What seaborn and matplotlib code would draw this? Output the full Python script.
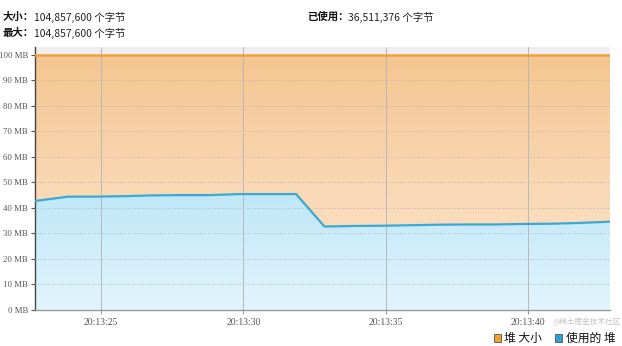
import numpy as np
import pandas as pd
import matplotlib
matplotlib.use("Agg")
import matplotlib.pyplot as plt
import seaborn as sns
from matplotlib.patches import Rectangle

# ---- data (seconds after 20:13:00, MB) ----
times = [22.68, 23.85, 24.85, 25.85, 26.85, 27.85, 28.85, 29.85, 30.85, 31.85,
         32.85, 33.85, 34.85, 35.85, 36.85, 37.85, 38.85, 39.85, 40.85, 41.85, 42.88]
used_mb = [42.7, 44.4, 44.4, 44.6, 44.9, 45.0, 45.0, 45.4, 45.4, 45.4,
           32.7, 32.9, 33.0, 33.2, 33.4, 33.5, 33.5, 33.7, 33.8, 34.1, 34.6]
heap_mb = [100.0] * len(times)
tick_secs = [25, 30, 35, 40]
tick_labels = ["20:13:25", "20:13:30", "20:13:35", "20:13:40"]
y_ticks = [0, 10, 20, 30, 40, 50, 60, 70, 80, 90, 100]
series_names = ["堆 大小", "使用的 堆"]

df = pd.DataFrame({"t": times, "heap": heap_mb, "used": used_mb})

sns.set_theme(style="white")
plt.rcParams['font.family'] = ['Noto Sans CJK SC', 'DejaVu Sans']

fig = plt.figure(figsize=(6.22, 3.46), dpi=100)
ax = fig.add_axes([35/622, 1-310/346, 575/622, 263/346])

x0, x1 = times[0], times[-1]
y0, y1 = 0, 103
ax.set_xlim(x0, x1)
ax.set_ylim(y0, y1)

# gray band above 100 MB
ax.axhspan(100, y1, color="#eeeeee", zorder=0, lw=0)

# gradient fills
def grad_fill(yvals, c_top, c_bot, z):
    poly = ax.fill_between(df["t"], 0, yvals, color="none", lw=0, zorder=z)
    n = 256
    top = np.array(matplotlib.colors.to_rgb(c_top))
    bot = np.array(matplotlib.colors.to_rgb(c_bot))
    frac = np.linspace(0, 1, n)[:, None]
    img = (top * (1 - frac) + bot * frac)[:, None, :]
    im = ax.imshow(img, extent=[x0, x1, 0, max(yvals)], aspect="auto",
                   origin="upper", zorder=z)
    path = poly.get_paths()[0]
    im.set_clip_path(path, transform=ax.transData)

grad_fill(heap_mb, "#f5c590", "#fde9d4", 1)
grad_fill(used_mb, "#bfe7f8", "#e2f5fd", 2)

# grid
for yv in y_ticks[1:]:
    ax.axhline(yv, color="#b0b0b0", lw=0.6, ls=(0, (1, 2)), zorder=3)
for xv in tick_secs:
    ax.axvline(xv, color="#b8b8b8", lw=0.7, zorder=3)

sns.lineplot(data=df, x="t", y="heap", ax=ax, color="#f0a040", lw=1.8, zorder=5)
sns.lineplot(data=df, x="t", y="used", ax=ax, color="#3aa8d2", lw=1.6, zorder=5)

ax.set_xlabel("")
ax.set_ylabel("")
ax.set_yticks(y_ticks)
ax.set_yticklabels([f"{v} MB" for v in y_ticks], fontsize=6.3, color="#555555",
                   family="Liberation Serif")
ax.set_xticks(tick_secs)
ax.set_xticklabels(tick_labels, fontsize=7, color="#555555", family="Liberation Serif")
ax.tick_params(axis="y", length=3, width=0.8, color="#555555", pad=2, left=True)
ax.tick_params(axis="x", length=3, width=0.8, color="#999999", pad=3, bottom=True)
for s in ["top", "right"]:
    ax.spines[s].set_visible(False)
ax.spines["left"].set_color("#444444")
ax.spines["left"].set_linewidth(1.0)
ax.spines["bottom"].set_color("#999999")
ax.spines["bottom"].set_linewidth(1.0)

# header texts
fs = 7.5
def label(xp, yp, bold, val):
    t = fig.text(xp/622, 1-yp/346, bold, fontsize=fs, fontweight="bold",
                 va="center", ha="left", color="#111111")
    fig.canvas.draw()
    bb = t.get_window_extent()
    fig.text(bb.x1/622, 1-yp/346, val, fontsize=fs, va="center", ha="left", color="#222222")

label(3, 17, "大小：", "104,857,600 个字节")
label(307, 17, "已使用：", "36,511,376 个字节")
label(3, 33, "最大：", "104,857,600 个字节")

# watermark
fig.text(553/622, 1-322/346, "@稀土掘金技术社区", fontsize=5.5, color="#c4c4c4",
         ha="left", va="center")

# legend
fig.patches.append(Rectangle((494/622, 1-342/346), 7/622, 8/346, transform=fig.transFigure,
                             facecolor="#f0a030", edgecolor="#555555", lw=0.6))
fig.text(504/622, 1-338/346, series_names[0], fontsize=8.5, va="center", ha="left", color="#111111")
fig.patches.append(Rectangle((555/622, 1-342/346), 7/622, 8/346, transform=fig.transFigure,
                             facecolor="#2aa0d8", edgecolor="#555555", lw=0.6))
fig.text(566/622, 1-338/346, series_names[1], fontsize=8.5, va="center", ha="left", color="#111111")

fig.savefig("out.png", dpi=100)
